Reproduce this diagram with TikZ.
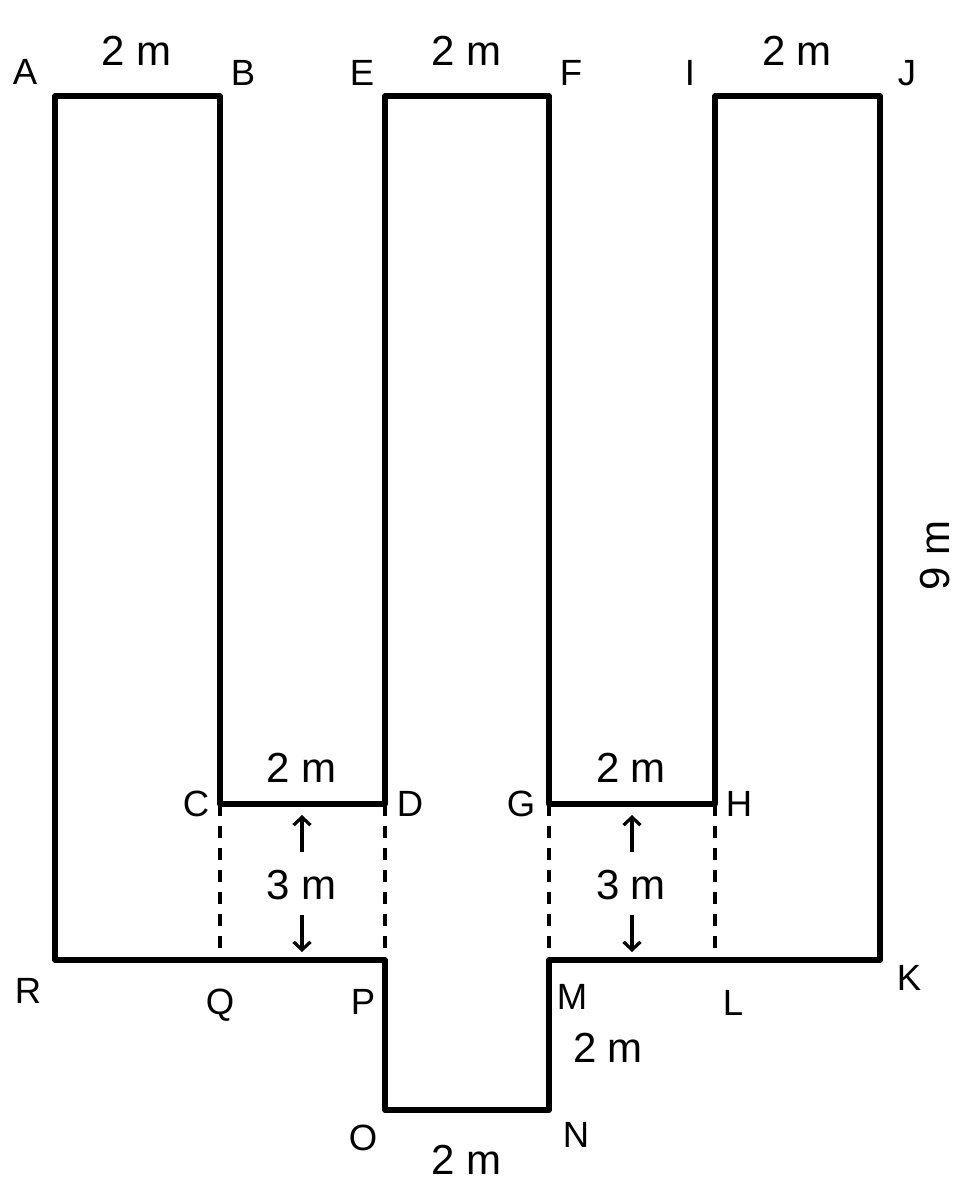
\documentclass[tikz,border=0pt]{standalone}
\usepackage{fontspec}
\setmainfont{Liberation Sans}
\usetikzlibrary{arrows.meta}
\begin{document}
\begin{tikzpicture}[x=1pt,y=-1pt,
  wall/.style={line width=5.5pt, line join=round, line cap=round},
  guide/.style={line width=3.5pt, dash pattern=on 12pt off 10pt},
  dimarrow/.style={line width=3.2pt, -{Straight Barb[length=8pt,width=17pt]}},
  ptlabel/.style={inner sep=0pt, text height=26pt, text depth=0pt, font=\fontsize{36.5pt}{36.5pt}\selectfont},
  dimlabel/.style={inner sep=0pt, text height=30pt, text depth=0pt, font=\fontsize{42pt}{42pt}\selectfont}]
\useasboundingbox (0,0) rectangle (963,1188);
% corners
\coordinate (A) at (55,96);
\coordinate (B) at (220,96);
\coordinate (C) at (220,804);
\coordinate (D) at (385,804);
\coordinate (E) at (385,96);
\coordinate (F) at (549,96);
\coordinate (G) at (549,804);
\coordinate (H) at (715,804);
\coordinate (I) at (715,96);
\coordinate (J) at (880,96);
\coordinate (K) at (880,960);
\coordinate (L) at (715,960);
\coordinate (M) at (549,960);
\coordinate (N) at (549,1110);
\coordinate (O) at (385,1110);
\coordinate (P) at (385,960);
\coordinate (Q) at (220,960);
\coordinate (R) at (55,960);
% outline
\draw[wall] (A) -- (B) -- (C) -- (D) -- (E) -- (F) -- (G) -- (H) -- (I) -- (J) -- (K) -- (M) -- (N) -- (O) -- (P) -- (R) -- cycle;
% dashed guides
\draw[guide] (C) -- (Q);
\draw[guide] (D) -- (P);
\draw[guide] (G) -- (M);
\draw[guide] (H) -- (L);
% point labels
\node[ptlabel] (lA) at (25,72) {A};
\node[ptlabel] (lB) at (243,73) {B};
\node[ptlabel] (lE) at (362,73) {E};
\node[ptlabel] (lF) at (571,73) {F};
\node[ptlabel] (lI) at (690,73) {I};
\node[ptlabel] (lJ) at (907,73) {J};
\node[ptlabel] (lC) at (196,803) {C};
\node[ptlabel] (lD) at (410,803) {D};
\node[ptlabel] (lG) at (521,803) {G};
\node[ptlabel] (lH) at (739,803) {H};
\node[ptlabel] (lR) at (28,990) {R};
\node[ptlabel] (lQ) at (220,1001) {Q};
\node[ptlabel] (lP) at (363,1001) {P};
\node[ptlabel] (lM) at (572,996) {M};
\node[ptlabel] (lL) at (733,1002) {L};
\node[ptlabel] (lK) at (909,977) {K};
\node[ptlabel] (lO) at (363,1137) {O};
\node[ptlabel] (lN) at (576,1134) {N};
% dimension labels
\node[dimlabel] (d1) at (137,51) {2 m};
\node[dimlabel] (d2) at (467,51) {2 m};
\node[dimlabel] (d3) at (797,51) {2 m};
\node[dimlabel, rotate=90] (d9) at (934,555) {9 m};
\node[dimlabel] (d4) at (302,767) {2 m};
\node[dimlabel] (d5) at (631,767) {2 m};
\node[dimlabel] (t1) at (302,884) {3 m};
\node[dimlabel] (t2) at (631,884) {3 m};
\node[dimlabel] (d6) at (608,1047) {2 m};
\node[dimlabel] (d7) at (467,1159) {2 m};
% arrows
\coordinate (u1s) at (302,852); \coordinate (u1e) at (302,815);
\coordinate (w1s) at (302,915); \coordinate (w1e) at (302,952);
\coordinate (u2s) at (632,852); \coordinate (u2e) at (632,815);
\coordinate (w2s) at (632,915); \coordinate (w2e) at (632,952);
\draw[dimarrow] (u1s) -- (u1e);
\draw[dimarrow] (w1s) -- (w1e);
\draw[dimarrow] (u2s) -- (u2e);
\draw[dimarrow] (w2s) -- (w2e);
\end{tikzpicture}
\end{document}
